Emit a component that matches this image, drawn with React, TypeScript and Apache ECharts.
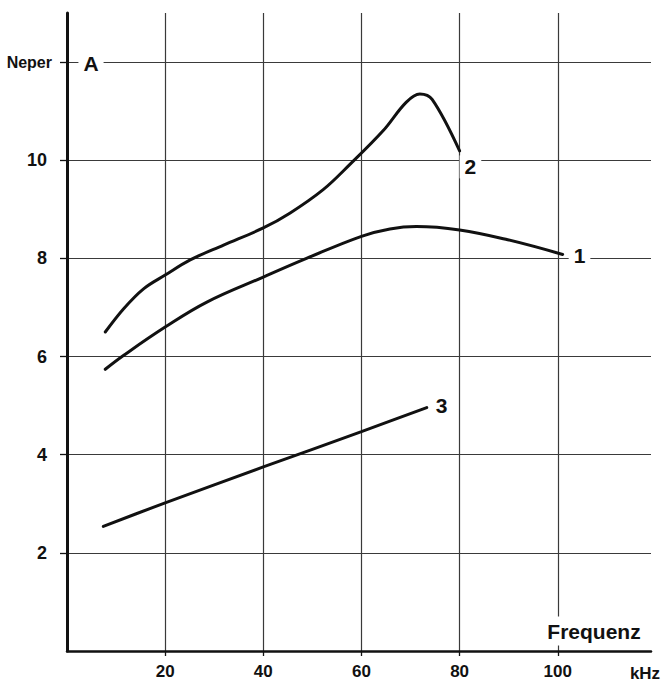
import React, { useEffect, useRef } from "react";
import * as echarts from "echarts";

const FONT = "'Liberation Sans', Arial, sans-serif";

const xTickValues = [20, 40, 60, 80, 100];
const yTickValues = [2, 4, 6, 8, 10, 12];
const xMax = 119;
const yMax = 13;

const curve1: [number, number][] = [
  [7.8, 5.74], [11.5, 6.02], [20, 6.6], [28.5, 7.11], [40, 7.62], [48.8, 8.0],
  [60, 8.45], [65.8, 8.6], [71.2, 8.65], [80, 8.58], [89.8, 8.38], [101, 8.08],
];
const curve2: [number, number][] = [
  [7.8, 6.5], [11.5, 6.97], [15.6, 7.38], [20, 7.66], [25.1, 7.97], [31.9, 8.27],
  [40, 8.62], [45.4, 8.92], [52.2, 9.4], [57.6, 9.91], [64.4, 10.6], [69.1, 11.18],
  [71.9, 11.35], [74.4, 11.24], [80, 10.19],
];
const curve3: [number, number][] = [
  [7.4, 2.54], [20, 3.02], [40, 3.75], [60, 4.47], [73.3, 4.96],
];

const seriesNames = ["1", "2", "3"];

export default function App() {
  const ref = useRef<HTMLDivElement>(null);
  useEffect(() => {
    if (!ref.current) return;
    const chart = echarts.init(ref.current, undefined, { renderer: "svg" });
    const ink = "#111";
    const grid = "#3a3a3a";
    const mkLabel = (offset: [number, number]) => ({
      show: true,
      formatter: "{a}",
      color: ink,
      fontFamily: FONT,
      fontWeight: "bold" as const,
      fontSize: 21,
      backgroundColor: "#fff",
      padding: [1, 5, 1, 5],
      distance: 0,
      offset,
    });
    const lineSeries = (name: string, data: [number, number][], offset: [number, number], smooth: number) => ({
      type: "line" as const,
      name,
      data,
      smooth,
      showSymbol: false,
      symbol: "none",
      lineStyle: { color: ink, width: 3, cap: "round" as const },
      endLabel: mkLabel(offset),
      z: 3,
    });
    chart.setOption({
      animation: false,
      backgroundColor: "#fff",
      grid: { left: 67, right: 17, top: 13, bottom: 32, containLabel: false, outerBoundsMode: "none" },
      xAxis: {
        type: "value",
        min: 0,
        max: xMax,
        interval: 20,
        axisLine: { show: true, lineStyle: { color: ink, width: 2.5 } },
        axisTick: { show: true, length: 5, customValues: xTickValues, lineStyle: { color: ink, width: 1.3 } },
        axisLabel: {
          customValues: xTickValues,
          margin: 12,
          color: ink,
          fontFamily: FONT,
          fontWeight: "bold",
          fontSize: 17,
        },
        splitLine: { show: true, lineStyle: { color: grid, width: 1.2 } },
      },
      yAxis: {
        type: "value",
        min: 0,
        max: yMax,
        interval: 2,
        axisLine: { show: true, lineStyle: { color: ink, width: 3 } },
        axisTick: { show: true, length: 7, customValues: yTickValues, lineStyle: { color: ink, width: 1.3 } },
        axisLabel: {
          customValues: yTickValues,
          margin: 15,
          color: ink,
          fontFamily: FONT,
          fontWeight: "bold",
          fontSize: 16,
          formatter: (v: number) => (v === 12 ? "Neper" : "{d|" + v + "}"),
          rich: {
            d: { fontFamily: FONT, fontWeight: "bold", fontSize: 18, color: ink, padding: [0, 5, 0, 0] },
          },
        },
        splitLine: { show: true, lineStyle: { color: grid, width: 1.2 } },
      },
      series: [
        lineSeries(seriesNames[0], curve1, [6, 1], 0.4),
        lineSeries(seriesNames[1], curve2, [0, 16], 0.35),
        lineSeries(seriesNames[2], curve3, [4, -2], 0.2),
      ],
      graphic: [
        {
          type: "text",
          x: 91,
          y: 63,
          z: 10,
          style: {
            text: "A",
            fill: ink,
            font: `bold 21px ${FONT}`,
            align: "center",
            verticalAlign: "middle",
            backgroundColor: "#fff",
            padding: [2, 5, 2, 5],
          },
        },
        {
          type: "text",
          x: 594,
          y: 631,
          z: 10,
          style: {
            text: "Frequenz",
            fill: ink,
            font: `bold 21px ${FONT}`,
            align: "center",
            verticalAlign: "middle",
            backgroundColor: "#fff",
            padding: [4, 2, 4, 2],
          },
        },
        {
          type: "text",
          x: 645,
          y: 673,
          z: 10,
          style: {
            text: "kHz",
            fill: ink,
            font: `bold 17px ${FONT}`,
            align: "center",
            verticalAlign: "middle",
          },
        },
      ],
    });
    return () => chart.dispose();
  }, []);
  return (
    <div
      ref={ref}
      style={{ position: "fixed", left: 0, top: 0, width: 668, height: 683, background: "#fff" }}
    />
  );
}
